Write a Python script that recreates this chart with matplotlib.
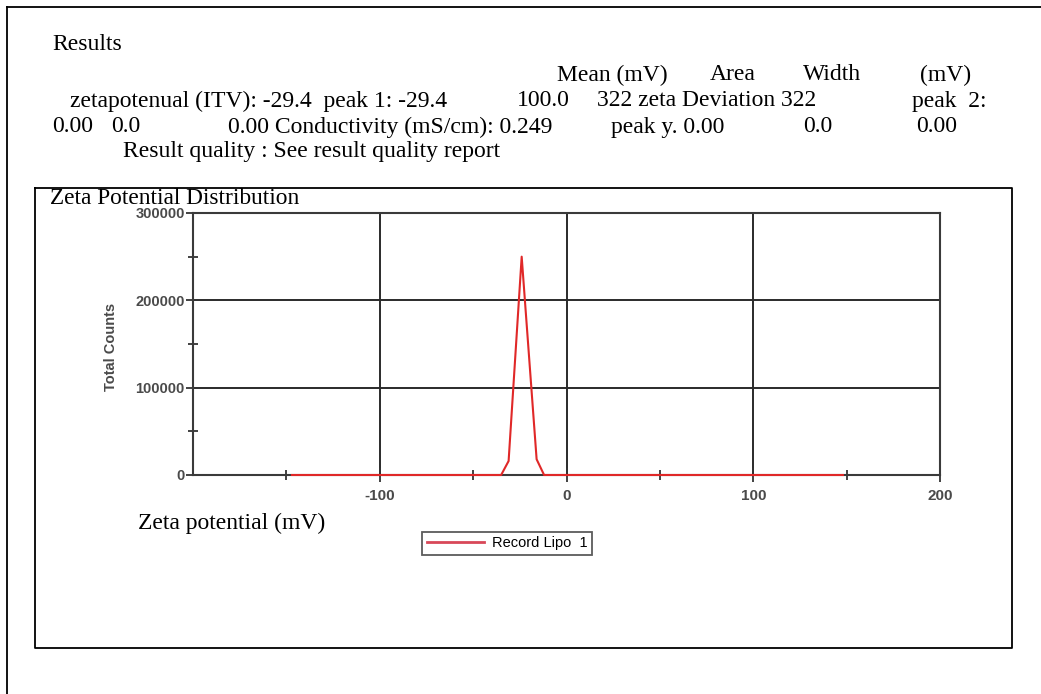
import matplotlib
matplotlib.use("Agg")
import matplotlib.pyplot as plt
from matplotlib.lines import Line2D
from matplotlib.ticker import FixedLocator

# ---- data ----
zeta_mv = [-147, -35, -31, -24, -16, -12, 148]
total_counts = [0, 0, 16000, 250000, 18000, 0, 0]
series_name = "Record Lipo  1"
x_tick_values = [-100, 0, 100, 200]
x_minor_values = [-150, -50, 50, 150]
y_tick_values = [0, 100000, 200000, 300000]
y_minor_values = [50000, 150000, 250000]

W, H = 1041, 694
fig = plt.figure(figsize=(W / 100, H / 100), dpi=100)

def fx(px):
    return px / W

def fy(py):
    return 1 - py / H

serif = "Liberation Serif"
sans = "Liberation Sans"

# outer frame lines (left and top)
fig.add_artist(Line2D([fx(7), fx(7)], [fy(7), fy(694)], color="black", lw=1.3, transform=fig.transFigure))
fig.add_artist(Line2D([fx(7), fx(1041)], [fy(7), fy(7)], color="black", lw=1.3, transform=fig.transFigure))
# inner box
bx = [fx(35), fx(1012), fx(1012), fx(35), fx(35)]
by = [fy(188), fy(188), fy(648), fy(648), fy(188)]
fig.add_artist(Line2D(bx, by, color="black", lw=1.3, transform=fig.transFigure))

fs = 17
def t(px, py, s, size=fs, va="center"):
    fig.text(fx(px), fy(py), s, family=serif, fontsize=size, va=va, ha="left")

t(52, 44, "Results")
t(557, 75, "Mean (mV)")
t(710, 75, "Area")
t(803, 75, "Width")
t(920, 75, "(mV)")
t(70, 101, "zetapotenual (ITV): -29.4  peak 1: -29.4")
t(517, 101, "100.0")
t(597, 101, "322 zeta Deviation 322")
t(912, 101, "peak  2:")
t(52, 127, "0.00")
t(111, 127, "0.0")
t(228, 127, "0.00 Conductivity (mS/cm): 0.249")
t(611, 127, "peak y. 0.00")
t(803, 127, "0.0")
t(916, 127, "0.00")
t(123, 152, "Result quality : See result quality report")

t(50, 203.5, "Zeta Potential Distribution", size=16.8, va="baseline")
t(138, 523, "Zeta potential (mV)")

# ---- axes ----
ax = fig.add_axes([fx(193), fy(475), fx(940) - fx(193), fy(213) - fy(475)])
line, = ax.plot(zeta_mv, total_counts, color="#e02828", lw=1.5, label=series_name,
                clip_on=False, zorder=5)
ax.set_xlim(-200, 200)
ax.set_ylim(0, 300000)
ax.xaxis.set_major_locator(FixedLocator(x_tick_values))
ax.xaxis.set_minor_locator(FixedLocator(x_minor_values))
ax.yaxis.set_major_locator(FixedLocator(y_tick_values))
ax.yaxis.set_minor_locator(FixedLocator(y_minor_values))
ax.set_xticklabels([str(v) for v in x_tick_values])
ax.set_yticklabels([str(v) for v in y_tick_values])
ax.grid(True, which="major", color="#2a2a2a", lw=1.4)
ax.set_axisbelow(True)
for sp in ax.spines.values():
    sp.set_color("#3a3a3a")
    sp.set_linewidth(1.5)
ax.tick_params(axis="both", which="major", direction="inout", length=10, width=1.3,
               color="#333333", labelcolor="#4a4a4a", labelsize=11)
ax.tick_params(axis="y", which="major", labelsize=10.5, pad=1)
ax.tick_params(axis="both", which="minor", direction="inout", length=7, width=1.3, color="#333333")
ax.tick_params(axis="x", which="major", pad=5)
for lab in ax.get_xticklabels() + ax.get_yticklabels():
    lab.set_family(sans)
    lab.set_fontweight("bold")
ax.set_ylabel("Total Counts", family=sans, fontsize=10.5, fontweight="bold", color="#4a4a4a")
ax.yaxis.set_label_coords((118 - 193) / 747, 0.49)

leg = fig.legend(handles=[line], labels=[series_name], loc="center",
                 bbox_to_anchor=(fx(507), fy(543.5)), frameon=True, fancybox=False,
                 prop={"family": sans, "size": 10.5}, handlelength=3.9, borderpad=0.3,
                 handletextpad=0.55, borderaxespad=0)
leg.get_frame().set_edgecolor("#333333")
leg.get_frame().set_linewidth(1.3)
leg.get_lines()[0].set_color("#d84858")
leg.get_lines()[0].set_linewidth(2)

fig.savefig("out.png", dpi=100)
